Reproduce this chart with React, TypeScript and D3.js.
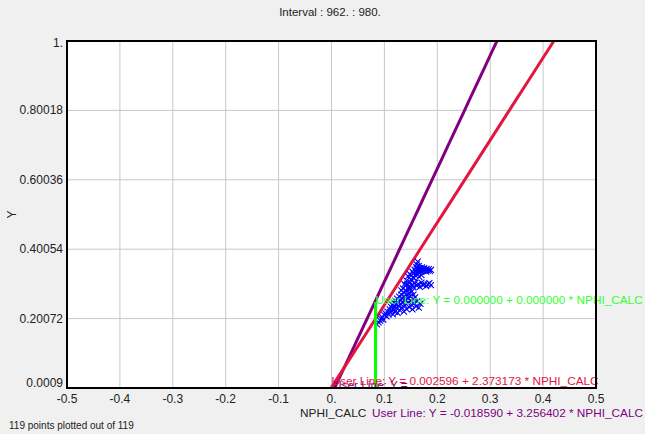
import React from 'react';
import * as d3 from 'd3';

const title = 'Interval : 962. : 980.';
const xTicks = [-0.5, -0.4, -0.3, -0.2, -0.1, 0, 0.1, 0.2, 0.3, 0.4, 0.5];
const xTickLabels = ['-0.5', '-0.4', '-0.3', '-0.2', '-0.1', '0.', '0.1', '0.2', '0.3', '0.4', '0.5'];
const yTicks = [0.0009, 0.20072, 0.40054, 0.60036, 0.80018, 1];
const yTickLabels = ['0.0009', '0.20072', '0.40054', '0.60036', '0.80018', '1.'];

// user lines: intercept, slope
const redLine = [0.002596, 2.373173];
const purpleLine = [-0.01859, 3.256402];
const greenX = 0.0833;
const greenTop = 0.2485;

const points: [number, number][] = [
  [0.086, 0.184], [0.089, 0.19], [0.092, 0.195], [0.094, 0.2], [0.096, 0.205], [0.098, 0.198],
  [0.1, 0.211], [0.102, 0.216], [0.104, 0.207], [0.106, 0.221], [0.108, 0.213], [0.11, 0.227],
  [0.111, 0.219], [0.113, 0.234], [0.114, 0.224], [0.115, 0.241], [0.116, 0.213], [0.117, 0.229],
  [0.118, 0.247], [0.119, 0.236], [0.12, 0.22], [0.121, 0.252], [0.122, 0.242], [0.123, 0.231],
  [0.124, 0.258], [0.125, 0.217], [0.126, 0.247], [0.127, 0.237], [0.128, 0.264], [0.129, 0.225],
  [0.13, 0.253], [0.131, 0.243], [0.132, 0.27], [0.133, 0.232], [0.134, 0.259], [0.135, 0.249],
  [0.136, 0.276], [0.137, 0.221], [0.138, 0.265], [0.139, 0.238], [0.14, 0.255], [0.141, 0.281],
  [0.142, 0.228], [0.143, 0.27], [0.144, 0.246], [0.145, 0.26], [0.146, 0.286], [0.147, 0.234],
  [0.148, 0.274], [0.149, 0.252], [0.15, 0.265], [0.151, 0.241], [0.152, 0.279], [0.153, 0.227],
  [0.154, 0.257], [0.155, 0.27], [0.156, 0.244], [0.158, 0.262], [0.16, 0.236], [0.162, 0.25],
  [0.165, 0.232], [0.168, 0.243],
  [0.14, 0.296], [0.143, 0.301], [0.146, 0.293], [0.149, 0.305], [0.152, 0.298], [0.155, 0.291],
  [0.158, 0.303], [0.161, 0.296], [0.164, 0.3], [0.167, 0.292], [0.17, 0.304], [0.173, 0.297],
  [0.176, 0.301], [0.179, 0.294], [0.182, 0.299], [0.185, 0.303], [0.188, 0.297], [0.15, 0.312],
  [0.156, 0.317], [0.147, 0.284],
  [0.145, 0.322], [0.148, 0.329], [0.151, 0.325], [0.153, 0.336], [0.155, 0.331], [0.157, 0.342],
  [0.159, 0.336], [0.16, 0.349], [0.161, 0.357], [0.162, 0.344], [0.163, 0.365], [0.164, 0.339],
  [0.165, 0.352], [0.166, 0.334], [0.167, 0.346], [0.168, 0.341], [0.17, 0.336], [0.171, 0.348],
  [0.172, 0.342], [0.174, 0.338], [0.175, 0.346], [0.177, 0.341], [0.179, 0.336], [0.18, 0.344],
  [0.182, 0.339], [0.184, 0.343], [0.186, 0.338], [0.188, 0.341], [0.154, 0.319], [0.158, 0.326],
  [0.162, 0.33], [0.142, 0.31], [0.138, 0.3], [0.135, 0.288], [0.132, 0.282], [0.166, 0.321],
  [0.17, 0.326],
];

export default function App() {
  const width = 645;
  const height = 434;
  const left = 67, right = 596, top = 41, bottom = 388;
  const font = '"Liberation Sans", Arial, sans-serif';

  const x = d3.scaleLinear().domain([-0.5, 0.5]).range([left, right]);
  const y = d3.scaleLinear().domain([0.0009, 1]).range([bottom, top]);

  const userLine = (p: number[]) => {
    const xs = d3.range(-0.5, 0.5001, 0.01);
    return d3.line<number>().x(v => x(v)).y(v => y(p[0] + p[1] * v))(xs) || '';
  };

  return (
    <svg width={width} height={height} style={{ position: 'absolute', left: 0, top: 0, background: '#f0f0f0' }}
      fontFamily={font}>
      <defs>
        <clipPath id="plot"><rect x={left} y={top} width={right - left} height={bottom - top} /></clipPath>
      </defs>
      <rect x={0} y={0} width={width} height={height} fill="#f0f0f0" />
      <text x={330} y={16} textAnchor="middle" fontSize={11.5} fill="#222">{title}</text>
      <rect x={left} y={top} width={right - left} height={bottom - top} fill="#fff" />
      {xTicks.slice(1, -1).map(t => (
        <line key={'gx' + t} x1={x(t)} x2={x(t)} y1={top} y2={bottom} stroke="#c8c8c8" />
      ))}
      {yTicks.slice(1, -1).map(t => (
        <line key={'gy' + t} x1={left} x2={right} y1={y(t)} y2={y(t)} stroke="#c8c8c8" />
      ))}
      <g clipPath="url(#plot)">
        <path d={userLine(purpleLine)} stroke="#800080" strokeWidth={3} fill="none" />
        <path d={userLine(redLine)} stroke="#e3163f" strokeWidth={3} fill="none" />
        {points.map((p, i) => {
          const cx = x(p[0]), cy = y(p[1]);
          return (
            <path key={i} d={`M${cx - 3},${cy - 3}L${cx + 3},${cy + 3}M${cx - 3},${cy + 3}L${cx + 3},${cy - 3}`}
              stroke="#0000ff" strokeWidth={1.1} fill="none" />
          );
        })}
        <line x1={x(greenX)} x2={x(greenX)} y1={y(0.0009)} y2={y(greenTop)} stroke="#00ff00" strokeWidth={3} />
      </g>
      <text x={x(0.003)} y={bottom + 1} fontSize={11.8} fill="#800080">User Line: Y =</text>
      <text x={x(greenX)} y={y(greenTop) + 2} fontSize={11.8} fill="#33ff33">User Line: Y = 0.000000 + 0.000000 * NPHI_CALC</text>
      <text x={x(0)} y={bottom - 3} fontSize={11.8} fill="#e3163f">User Line: Y = 0.002596 + 2.373173 * NPHI_CALC</text>
      <rect x={left} y={top} width={right - left} height={bottom - top} fill="none" stroke="#000" strokeWidth={2} />
      {yTicks.map((t, i) => (
        <text key={'yl' + t} x={left - 4} y={y(t) + (i === 0 ? -1 : i === yTicks.length - 1 ? 6 : 4)} textAnchor="end" fontSize={12} fill="#222">
          {yTickLabels[i]}
        </text>
      ))}
      {xTicks.map((t, i) => (
        <text key={'xl' + t} x={x(t)} y={bottom + 15} textAnchor="middle" fontSize={12} fill="#222">
          {xTickLabels[i]}
        </text>
      ))}
      <text transform={`translate(16,${(top + bottom) / 2}) rotate(-90)`} textAnchor="middle" fontSize={12} fill="#222">Y</text>
      <text x={300} y={417} fontSize={11.8} fill="#222">NPHI_CALC</text>
      <text x={372} y={417} fontSize={11.8} fill="#800080">User Line: Y = -0.018590 + 3.256402 * NPHI_CALC</text>
      <text x={9} y={429} fontSize={10} fill="#222">119 points plotted out of 119</text>
    </svg>
  );
}
